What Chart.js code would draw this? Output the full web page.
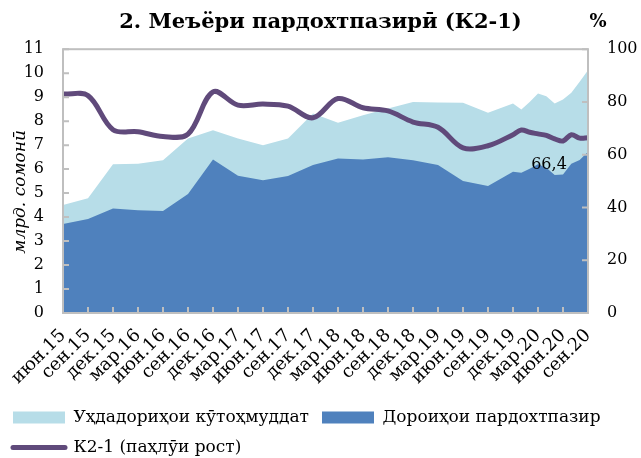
<!DOCTYPE html>
<html lang="tg">
<head>
<meta charset="utf-8">
<title>Меъёри пардохтпазирӣ (К2-1)</title>
<script src="https://cdn.jsdelivr.net/npm/chart.js@4.4.1/dist/chart.umd.min.js"></script>
<style>
    html, body { margin: 0; padding: 0; background: #fff; }
    #wrap { width: 641px; height: 458px; }
</style>
</head>
<body>
<div id="wrap"><canvas id="k21Chart" width="641" height="458"></canvas></div>
<script>
// --- Data ---
// quarterly up to дек.19, monthly after that
const periods = [
    'июн.15', 'сен.15', 'дек.15', 'мар.16', 'июн.16', 'сен.16', 'дек.16',
    'мар.17', 'июн.17', 'сен.17', 'дек.17', 'мар.18', 'июн.18', 'сен.18',
    'дек.18', 'мар.19', 'июн.19', 'сен.19', 'дек.19',
    'янв.20', 'фев.20', 'мар.20', 'апр.20', 'май.20', 'июн.20', 'июл.20', 'авг.20', 'сен.20'
];

// Уҳдадориҳои кӯтоҳмуддат, млрд. сомонӣ
const liabilities = [
    4.50, 4.78, 6.20, 6.22, 6.37, 7.28, 7.62,
    7.28, 7.00, 7.28, 8.32, 7.93, 8.25, 8.53,
    8.80, 8.78, 8.77, 8.35, 8.74,
    8.49, 8.80, 9.15, 9.04, 8.74, 8.90, 9.18, 9.64, 10.12
];

// Дороиҳои пардохтпазир, млрд. сомонӣ
const liquidAssets = [
    3.71, 3.92, 4.36, 4.28, 4.25, 4.96, 6.40,
    5.72, 5.54, 5.71, 6.17, 6.44, 6.40, 6.49,
    6.37, 6.17, 5.50, 5.30, 5.89,
    5.85, 6.01, 6.20, 6.06, 5.75, 5.77, 6.22, 6.38, 6.72
];

// К2-1, % (right axis)
const ratio = [
    83.0, 82.4, 69.5, 68.7, 66.9, 67.8, 83.8,
    78.8, 79.2, 78.4, 74.0, 81.3, 77.8, 76.6,
    72.4, 70.4, 62.6, 63.4, 67.6,
    69.4, 68.5, 67.9, 67.3, 66.0, 65.2, 67.6, 66.3, 66.4
];

const tickLabels = [
    'июн.15', 'сен.15', 'дек.15', 'мар.16', 'июн.16', 'сен.16', 'дек.16', 'мар.17',
    'июн.17', 'сен.17', 'дек.17', 'мар.18', 'июн.18', 'сен.18', 'дек.18', 'мар.19',
    'июн.19', 'сен.19', 'дек.19', 'мар.20', 'июн.20', 'сен.20'
];

// --- Helpers ---
const FONT = "'DejaVu Serif', 'Liberation Serif', serif";
const monthNames = ['янв', 'фев', 'мар', 'апр', 'май', 'июн', 'июл', 'авг', 'сен', 'окт', 'ноя', 'дек'];

// months counted from июн.15
const toMonth = (label) => {
    const [m, yy] = label.split('.');
    return (Number(yy) - 15) * 12 + monthNames.indexOf(m) - 5;
};

const toPoints = (values) => periods.map((p, i) => ({ x: toMonth(p), y: values[i] }));

// frame, inward tick marks, value label and the % unit
const chartExtras = {
    id: 'chartExtras',
    afterDatasetsDraw(chart) {
        const { ctx, chartArea: a, scales } = chart;
        ctx.save();
        ctx.strokeStyle = '#bfbfbf';
        ctx.lineWidth = 2;
        ctx.strokeRect(a.left, a.top, a.right - a.left, a.bottom - a.top);

        ctx.beginPath();
        scales.x.ticks.forEach((t, i) => {
            const px = scales.x.getPixelForTick(i);
            ctx.moveTo(px, a.bottom);
            ctx.lineTo(px, a.bottom - 6);
        });
        scales.y.ticks.forEach((t, i) => {
            const py = scales.y.getPixelForTick(i);
            ctx.moveTo(a.left, py);
            ctx.lineTo(a.left + 6, py);
        });
        scales.y1.ticks.forEach((t, i) => {
            const py = scales.y1.getPixelForTick(i);
            ctx.moveTo(a.right, py);
            ctx.lineTo(a.right - 6, py);
        });
        ctx.stroke();

        // last value of K2-1
        const last = ratio.length - 1;
        const px = scales.x.getPixelForValue(toMonth(periods[last]));
        const py = scales.y1.getPixelForValue(ratio[last]);
        ctx.fillStyle = '#000';
        ctx.font = `16px ${FONT}`;
        ctx.textAlign = 'center';
        ctx.textBaseline = 'middle';
        ctx.fillText(ratio[last].toFixed(1).replace('.', ','), px - 39, py + 27);

        // unit of the right axis
        ctx.font = `bold 18px ${FONT}`;
        ctx.fillText('%', scales.y1.left + 10, a.top - 27);
        ctx.restore();
    }
};

const legendOrder = [2, 1, 0];

new Chart(document.getElementById('k21Chart'), {
    type: 'line',
    data: {
        datasets: [
            {
                label: 'К2-1 (паҳлӯи рост)',
                data: toPoints(ratio),
                yAxisID: 'y1',
                borderColor: '#604a7b',
                borderWidth: 5,
                borderCapStyle: 'round',
                borderJoinStyle: 'round',
                tension: 0.35,
                pointRadius: 0,
                fill: false
            },
            {
                label: 'Дороиҳои пардохтпазир',
                data: toPoints(liquidAssets),
                yAxisID: 'y',
                borderWidth: 0,
                backgroundColor: '#4f81bd',
                tension: 0,
                pointRadius: 0,
                fill: 'origin'
            },
            {
                label: 'Уҳдадориҳои кӯтоҳмуддат',
                data: toPoints(liabilities),
                yAxisID: 'y',
                borderWidth: 0,
                backgroundColor: '#b7dde8',
                tension: 0,
                pointRadius: 0,
                fill: 'origin'
            }
        ]
    },
    options: {
        responsive: false,
        animation: false,
        layout: { padding: { bottom: -8 } },
        plugins: {
            tooltip: { enabled: false },
            title: {
                display: true,
                text: '2. Меъёри пардохтпазирӣ (К2-1)',
                color: '#000',
                font: { family: FONT, size: 21, weight: 'bold' },
                padding: { top: 10, bottom: 14 }
            },
            legend: {
                position: 'bottom',
                align: 'start',
                labels: {
                    usePointStyle: true,
                    pointStyleWidth: 52,
                    boxHeight: 12,
                    padding: 13,
                    color: '#000',
                    font: { family: FONT, size: 17 },
                    generateLabels: (chart) => legendOrder.map(i => {
                        const ds = chart.data.datasets[i];
                        const isLine = ds.fill === false;
                        return {
                            text: ds.label,
                            datasetIndex: i,
                            fillStyle: isLine ? ds.borderColor : ds.backgroundColor,
                            strokeStyle: isLine ? ds.borderColor : ds.backgroundColor,
                            lineWidth: isLine ? 5 : 0,
                            lineCap: 'round',
                            pointStyle: isLine ? 'line' : 'rect',
                            fontColor: '#000',
                            hidden: false
                        };
                    })
                }
            }
        },
        scales: {
            x: {
                type: 'linear',
                min: 0,
                max: toMonth(tickLabels[tickLabels.length - 1]),
                grid: { display: false, drawTicks: false },
                border: { display: false },
                ticks: {
                    stepSize: 3,
                    autoSkip: false,
                    maxRotation: 45,
                    minRotation: 45,
                    padding: 12,
                    color: '#000',
                    font: { family: FONT, size: 18 },
                    callback: (v) => tickLabels[v / 3]
                },
                afterFit: (s) => { s.height = 83; }
            },
            y: {
                position: 'left',
                min: 0,
                max: 11,
                grid: { display: false, drawTicks: false },
                border: { display: false },
                ticks: {
                    stepSize: 1,
                    autoSkip: false,
                    padding: 19,
                    color: '#000',
                    font: { family: FONT, size: 16 }
                },
                title: {
                    display: true,
                    text: 'млрд. сомонӣ\u00a0\u00a0\u00a0\u00a0',
                    color: '#000',
                    font: { family: FONT, size: 17, style: 'italic' },
                    padding: { top: 10, bottom: 0 }
                },
                afterFit: (s) => { s.width = 63; }
            },
            y1: {
                position: 'right',
                min: 0,
                max: 100,
                grid: { display: false, drawTicks: false },
                border: { display: false },
                ticks: {
                    stepSize: 20,
                    autoSkip: false,
                    padding: 19,
                    color: '#000',
                    font: { family: FONT, size: 16 }
                },
                afterFit: (s) => { s.width = 53; }
            }
        }
    },
    plugins: [chartExtras]
});
</script>
</body>
</html>
